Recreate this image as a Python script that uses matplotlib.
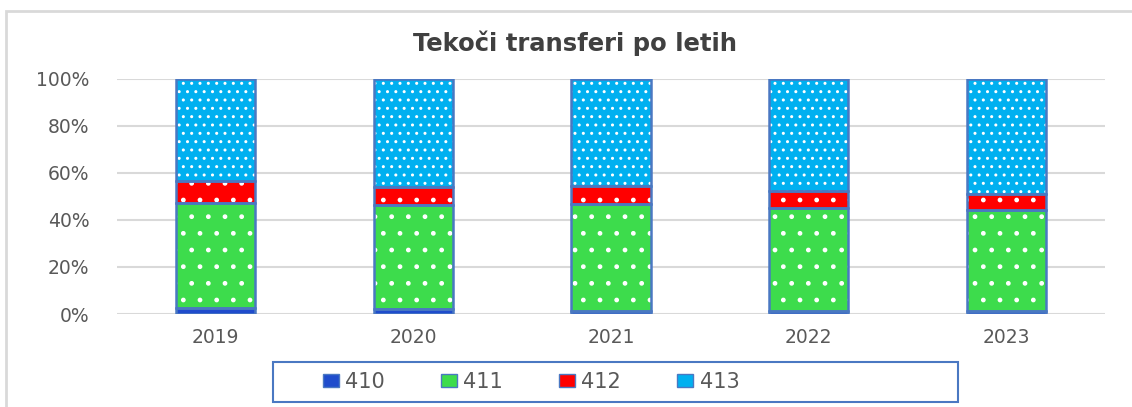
import matplotlib.pyplot as plt
import matplotlib.patches as mpatches
import numpy as np

# ── Data ──────────────────────────────────────────────────────────────────────
years = ["2019", "2020", "2021", "2022", "2023"]
s410 = [2.7, 2.0, 1.4, 1.3, 1.2]
s411 = [44.7, 44.4, 45.4, 43.7, 43.1]
s412 = [9.2, 7.5, 7.7, 7.3, 6.6]
s413 = [100 - a - b - c for a, b, c in zip(s410, s411, s412)]

series = [("410", s410, "#1f4ccc", "."),
          ("411", s411, "#3ddc4c", "."),
          ("412", s412, "#ff0000", "."),
          ("413", s413, "#00b0f0", "..")]

edge = "#4a78c2"
txt = "#595959"

plt.rcParams["hatch.linewidth"] = 1.0

fig = plt.figure(figsize=(11.32, 4.07), dpi=100)
ax = fig.add_axes([0.1034, 0.2285, 0.8727, 0.5775])

x = np.arange(len(years))
w = 0.40
bottom = np.zeros(len(years))
handles = []
for name, vals, col, hatch in series:
    vals = np.array(vals)
    ax.bar(x, vals, w, bottom=bottom, color=col, edgecolor="white",
           hatch=hatch, linewidth=0, zorder=2)
    ax.bar(x, vals, w, bottom=bottom, fill=False, edgecolor=edge,
           linewidth=1.8, zorder=3)
    bottom += vals
    handles.append(mpatches.Patch(facecolor=col, edgecolor=edge,
                                  linewidth=1.0, label=name))

ax.set_xlim(-0.5, len(years) - 0.5)
ax.set_ylim(0, 100)
ax.set_yticks(range(0, 101, 20))
ax.set_yticklabels([f"{v}%" for v in range(0, 101, 20)])
ax.set_xticks(x)
ax.set_xticklabels(years)
ax.tick_params(length=0, labelsize=13.5, colors=txt, pad=10)
ax.tick_params(axis="y", pad=20)
ax.yaxis.grid(True, color="#d9d9d9", linewidth=1.5, zorder=0)
ax.set_axisbelow(True)
for sp in ax.spines.values():
    sp.set_visible(False)

fig.text(0.508, 1 - 43 / 407, "Tekoči transferi po letih", ha="center",
         va="center", fontsize=17.5, fontweight="bold", color="#404040")

# outer chart frame (runs past right and bottom edges)
fig.patches.append(mpatches.Rectangle((6 / 1132, -0.05), 1.2, 1 - 11 / 407 + 0.05,
                                      transform=fig.transFigure, fill=False,
                                      edgecolor="#d9d9d9", linewidth=2))
# legend box
fig.patches.append(mpatches.Rectangle((273 / 1132, 1 - 402 / 407),
                                      (958 - 273) / 1132, 40 / 407,
                                      transform=fig.transFigure, fill=False,
                                      edgecolor=edge, linewidth=1.5))

fig.legend(handles=handles, loc="center", ncol=4,
           bbox_to_anchor=(531 / 1132, 1 - 382 / 407), frameon=False,
           fontsize=15, handlelength=0.77, handleheight=0.6, handletextpad=0.3,
           columnspacing=2.7, labelcolor=txt)

fig.savefig("out.png", dpi=100)
